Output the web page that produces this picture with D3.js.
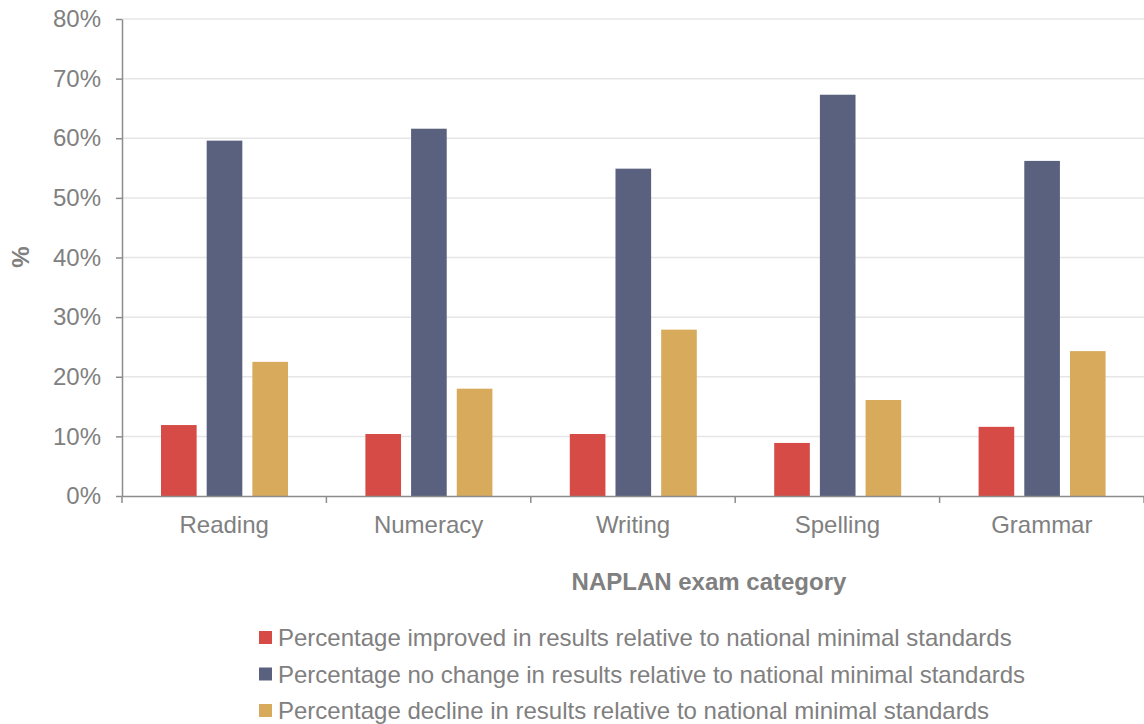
<!DOCTYPE html>
<html>
<head>
<meta charset="utf-8">
<script src="https://cdn.jsdelivr.net/npm/d3@7"></script>
<style>
  html, body { margin: 0; padding: 0; background: #fff; }
  svg { display: block; font-family: "Liberation Sans", Arial, sans-serif; }
</style>
</head>
<body>
<svg id="chart" width="1144" height="724"></svg>
<script>
// NAPLAN categories and the share of schools in each outcome group
const categories = ["Reading", "Numeracy", "Writing", "Spelling", "Grammar"];
const improved = [11.9, 10.4, 10.4, 8.9, 11.6];
const noChange = [59.6, 61.6, 54.9, 67.3, 56.2];
const decline = [22.5, 18.0, 27.9, 16.1, 24.3];
const seriesNames = [
  "Percentage improved in results relative to national minimal standards",
  "Percentage no change in results relative to national minimal standards",
  "Percentage decline in results relative to national minimal standards"
];
const seriesColors = ["#D64B45", "#5A617E", "#D8AB5C"];
const yTicks = [0, 10, 20, 30, 40, 50, 60, 70, 80];

const series = [improved, noChange, decline];
const svg = d3.select("#chart");
const margin = { left: 122, right: 0, top: 19, bottom: 228 };
const W = 1144, H = 724;
const innerBottom = H - margin.bottom;
const fontSize = "24px";

const x0 = d3.scaleBand().domain(categories).range([margin.left, W - margin.right]).paddingInner(0).paddingOuter(0);
const x1 = d3.scaleBand().domain(d3.range(series.length)).range([39, 166]).paddingInner(0.22);
const y = d3.scaleLinear().domain([0, 80]).range([innerBottom, margin.top]);

const textColor = "#808080";
const axisColor = "#8c8c8c";

// gridlines
svg.append("g").selectAll("line").data(yTicks.filter(d => d > 0)).join("line")
  .attr("x1", margin.left).attr("x2", W)
  .attr("y1", d => y(d)).attr("y2", d => y(d))
  .attr("stroke", "#e6e6e6").attr("stroke-width", 1.5);

// bars
const groups = svg.append("g").selectAll("g").data(categories).join("g")
  .attr("transform", c => `translate(${x0(c)},0)`);
groups.selectAll("rect").data((c, i) => series.map((s, k) => ({ k, v: s[i] }))).join("rect")
  .attr("x", d => x1(d.k))
  .attr("width", x1.bandwidth())
  .attr("y", d => y(d.v))
  .attr("height", d => y(0) - y(d.v))
  .attr("fill", d => seriesColors[d.k]);

// y axis
const yAxis = svg.append("g").attr("transform", `translate(${margin.left},0)`)
  .call(d3.axisLeft(y).tickValues(yTicks).tickFormat(d => d + "%").tickSize(6).tickSizeOuter(0).tickPadding(15));
yAxis.select(".domain").attr("stroke", axisColor).attr("stroke-width", 1.5);
yAxis.selectAll(".tick line").attr("stroke", axisColor).attr("stroke-width", 1.5);
yAxis.selectAll(".tick text").attr("fill", textColor).style("font-size", fontSize);

// x axis
const xAxis = svg.append("g").attr("transform", `translate(0,${innerBottom})`)
  .call(d3.axisBottom(x0).tickSize(0).tickPadding(20));
xAxis.select(".domain").attr("stroke", axisColor).attr("stroke-width", 1.5);
xAxis.selectAll(".tick text").attr("fill", textColor).style("font-size", fontSize);
// category boundary ticks
const bounds = categories.map(c => x0(c)).concat([W - margin.right]);
svg.append("g").selectAll("line").data(bounds).join("line")
  .attr("x1", d => d).attr("x2", d => d)
  .attr("y1", innerBottom).attr("y2", innerBottom + 7)
  .attr("stroke", axisColor).attr("stroke-width", 1.5);

// axis titles
svg.append("text").attr("x", 709).attr("y", 590).attr("text-anchor", "middle")
  .attr("fill", textColor).style("font-size", fontSize).style("font-weight", "bold")
  .text("NAPLAN exam category");
svg.append("text").attr("transform", "translate(29,257) rotate(-90)").attr("text-anchor", "middle")
  .attr("fill", textColor).style("font-size", fontSize).style("font-weight", "bold")
  .text("%");

// legend
const legend = svg.append("g").selectAll("g").data(seriesNames).join("g")
  .attr("transform", (d, i) => `translate(259,${638 + i * 36.5})`);
legend.append("rect").attr("x", 0).attr("y", -7).attr("width", 13).attr("height", 13)
  .attr("fill", (d, i) => seriesColors[i]);
legend.append("text").attr("x", 19).attr("y", 0).attr("dy", "0.35em")
  .attr("fill", textColor).style("font-size", fontSize).text(d => d);
</script>
</body>
</html>
